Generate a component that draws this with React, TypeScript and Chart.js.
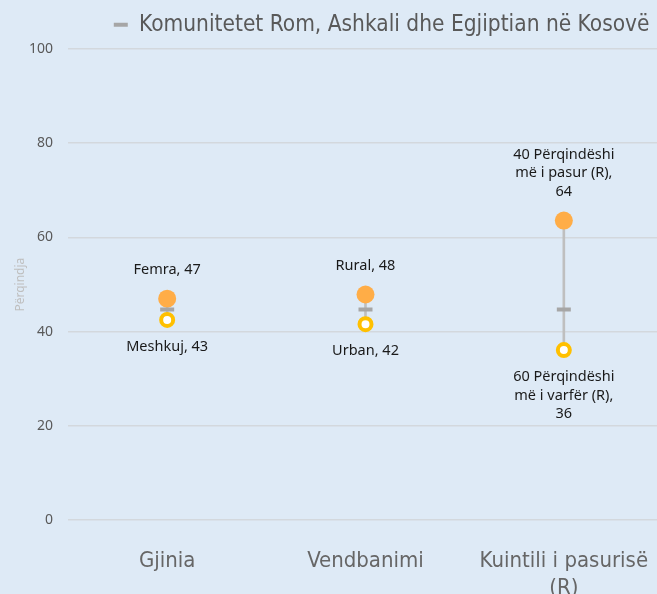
import React, { useEffect, useRef } from "react";
import { Chart, registerables } from "chart.js";

Chart.register(...registerables);

const categories: (string | string[])[] = ["Gjinia", "Vendbanimi", ["Kuintili i pasurisë", "(R)"]];
const highValues = [47, 48, 64];
const lowValues = [43, 42, 36];
const highPlotted = [47.0, 47.9, 63.6];
const lowPlotted = [42.5, 41.6, 36.1];
const averageValues = [44.7, 44.7, 44.7];
const highLabels = [["Femra, 47"], ["Rural, 48"], ["40 Përqindëshi", "më i pasur (R),", "64"]];
const lowLabels = [["Meshkuj, 43"], ["Urban, 42"], ["60 Përqindëshi", "më i varfër (R),", "36"]];
const legendLabel = "Komunitetet Rom, Ashkali dhe Egjiptian në Kosovë";
const yTicks = [0, 20, 40, 60, 80, 100];

const CONDENSED = '"DejaVu Sans Condensed", "Roboto", sans-serif';
const LABEL_FONT = '"Noto Sans", "Open Sans", sans-serif';

const labelPlugin = {
  id: "pointLabels",
  afterLayout(chart: any) {
    if (chart.legend) {
      chart.legend.right = 665;
      chart.legend.top -= 3;
    }
  },
  afterDatasetsDraw(chart: any) {
    const ctx = chart.ctx;
    ctx.save();
    ctx.font = `14.5px ${LABEL_FONT}`;
    ctx.fillStyle = "#1a1a1a";
    ctx.textAlign = "center";
    ctx.textBaseline = "middle";
    const lh = 18.5;
    const hi = chart.getDatasetMeta(1);
    hi.data.forEach((pt: any, i: number) => {
      const lines = highLabels[i];
      lines.forEach((t, j) => {
        ctx.fillText(t, pt.x, pt.y - 29 - (lines.length - 1 - j) * lh);
      });
    });
    const lo = chart.getDatasetMeta(2);
    lo.data.forEach((pt: any, i: number) => {
      const lines = lowLabels[i];
      lines.forEach((t, j) => {
        ctx.fillText(t, pt.x, pt.y + 27 + j * lh);
      });
    });
    ctx.restore();
  },
};

export default function App() {
  const ref = useRef<HTMLCanvasElement>(null);
  useEffect(() => {
    const canvas = ref.current!;
    const chart = new Chart(canvas, {
      type: "bar",
      data: {
        labels: categories,
        datasets: [
          {
            type: "bar",
            label: "range",
            data: lowPlotted.map((l, i) => [l, highPlotted[i]]) as any,
            backgroundColor: "#bfbfbf",
            barThickness: 2,
            order: 10,
          },
          {
            type: "line",
            label: "high",
            data: highPlotted,
            showLine: false,
            pointRadius: 9,
            pointBackgroundColor: "#FFAD47",
            pointBorderColor: "#FFAD47",
            pointBorderWidth: 0,
            order: 2,
          },
          {
            type: "line",
            label: "low",
            data: lowPlotted,
            showLine: false,
            pointRadius: 6,
            pointBackgroundColor: "#ffffff",
            pointBorderColor: "#FFC000",
            pointBorderWidth: 4,
            order: 2,
          },
          {
            type: "line",
            label: legendLabel,
            data: averageValues,
            showLine: false,
            pointStyle: "line",
            pointRadius: 7,
            pointBorderColor: "#a6a6a6",
            pointBackgroundColor: "#a6a6a6",
            pointBorderWidth: 4,
            backgroundColor: "#a6a6a6",
            borderColor: "#a6a6a6",
            order: 1,
          },
        ],
      },
      options: {
        animation: false,
        responsive: false,
        maintainAspectRatio: false,
        layout: { padding: { top: 1, right: 0, left: 11, bottom: 0 } },
        plugins: {
          tooltip: { enabled: false },
          legend: {
            display: true,
            position: "top",
            align: "end",
            labels: {
              boxWidth: 14,
              boxHeight: 4,
              color: "#595959",
              padding: 15.5,
              font: { size: 22.5, family: CONDENSED },
              generateLabels: () => [
                {
                  text: legendLabel,
                  fillStyle: "#a6a6a6",
                  strokeStyle: "#a6a6a6",
                  lineWidth: 0,
                  datasetIndex: 3,
                  fontColor: "#595959",
                },
              ],
            },
          },
        },
        scales: {
          x: {
            offset: true,
            grid: { display: false },
            border: { display: false },
            ticks: {
              color: "#666666",
              font: { size: 22, family: CONDENSED },
              padding: 20,
            },
          },
          y: {
            min: 0,
            max: 100,
            afterBuildTicks: (axis: any) => {
              axis.ticks = yTicks.map((v) => ({ value: v }));
            },
            afterFit: (axis: any) => {
              axis.width = 57;
            },
            grid: { color: "#d3d8dd", lineWidth: 1.5, drawTicks: false },
            border: { display: false },
            ticks: {
              color: "#595959",
              font: { size: 14, family: LABEL_FONT },
              padding: 15,
            },
            title: {
              display: true,
              text: "Përqindja",
              color: "#bfbfbf",
              font: { size: 12, family: LABEL_FONT },
              padding: { top: 2, bottom: 0 },
            },
          },
        },
      },
      plugins: [labelPlugin],
    });
    return () => chart.destroy();
  }, []);

  return (
    <div
      style={{
        position: "fixed",
        left: 0,
        top: 0,
        width: 657,
        height: 594,
        overflow: "hidden",
        background: "#DEEAF6",
      }}
    >
      <canvas ref={ref} width={674} height={621} style={{ display: "block" }} />
    </div>
  );
}
